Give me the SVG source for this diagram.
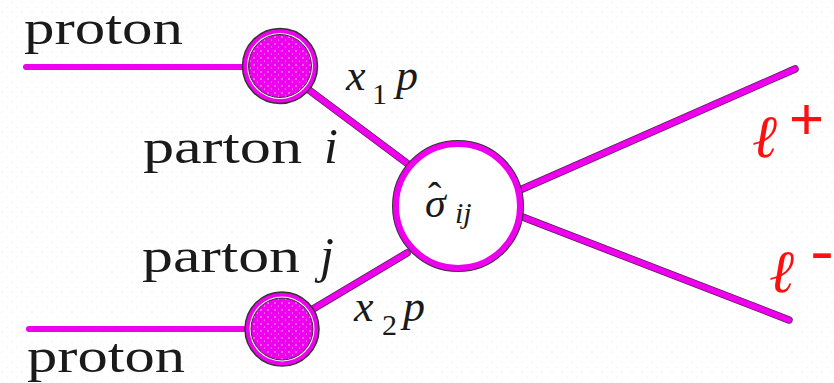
<svg xmlns="http://www.w3.org/2000/svg" width="834" height="383" viewBox="0 0 834 383">
<defs>
<style>
.t{fill:#1a1a1a}
.it{font-style:italic}
.lep{font-style:italic;fill:#ff1010}
.sgn{fill:#ff1010}
.ln{stroke:#ee00ee;stroke-width:6;stroke-linecap:round;fill:none}
.lnb{stroke:#552255;stroke-width:7.5;stroke-linecap:round;fill:none}
</style>
<pattern id="bg" width="10" height="10" patternUnits="userSpaceOnUse">
<circle cx="2" cy="2" r="0.6" fill="#f3c8f3"/>
<circle cx="7" cy="7" r="0.6" fill="#cdeff3"/>
</pattern>
<pattern id="dots" width="7" height="7" patternUnits="userSpaceOnUse">
<rect width="7" height="7" fill="#ee00ee"/>
<circle cx="2" cy="2" r="0.8" fill="#ffd0ff"/>
<circle cx="5.5" cy="5" r="0.6" fill="#ffe0ff"/>
</pattern>
</defs>
<rect width="834" height="383" fill="#ffffff"/>
<rect width="834" height="383" fill="url(#bg)"/>

<g id="connectors">
<line class="ln" x1="26" y1="67" x2="242" y2="67"/>
<line class="ln" x1="29" y1="329" x2="246" y2="329"/>
<line class="lnb" x1="309" y1="90" x2="408" y2="164"/>
<line class="ln" x1="309" y1="90" x2="408" y2="164"/>
<line class="lnb" x1="313" y1="309" x2="407" y2="253"/>
<line class="ln" x1="313" y1="309" x2="407" y2="253"/>
<line class="lnb" x1="520" y1="190" x2="795" y2="69"/>
<line class="ln" x1="520" y1="190" x2="795" y2="69"/>
<line class="lnb" x1="520" y1="216" x2="789" y2="320"/>
<line class="ln" x1="520" y1="216" x2="789" y2="320"/>
</g>

<g id="pdf1">
<circle cx="280" cy="66" r="37.5" fill="#ee00ee" stroke="#333" stroke-width="1.5"/>
<circle cx="280" cy="66" r="33" fill="#ffffff"/>
<circle cx="280" cy="66" r="31.5" fill="url(#dots)" stroke="#333" stroke-width="1"/>
</g>

<g id="pdf2">
<circle cx="282" cy="329" r="37" fill="#ee00ee" stroke="#333" stroke-width="1.5"/>
<circle cx="282" cy="329" r="32.5" fill="#ffffff"/>
<circle cx="282" cy="329" r="31" fill="url(#dots)" stroke="#333" stroke-width="1"/>
</g>

<g font-family="'Liberation Serif', 'DejaVu Serif', serif">
<g id="hard">
<circle cx="458" cy="206" r="62" fill="#ffffff" stroke="#333" stroke-width="8"/>
<circle cx="458" cy="206" r="62" fill="#ffffff" stroke="#ee00ee" stroke-width="6"/>
<text class="t it"><tspan x="425" y="217" font-size="42">σ</tspan><tspan x="428" y="210" font-size="40" font-style="normal">ˆ</tspan><tspan x="455" y="223" font-size="30">ij</tspan></text>
</g>

<g id="proton-top">
<text class="t" x="24" y="44" font-size="48" textLength="159" lengthAdjust="spacingAndGlyphs">proton</text>
</g>
<g id="proton-bottom">
<text class="t" x="27" y="372" font-size="48" textLength="158" lengthAdjust="spacingAndGlyphs">proton</text>
</g>
<g id="parton-i">
<text class="t" x="143" y="163" font-size="48" textLength="159" lengthAdjust="spacingAndGlyphs">parton</text>
<text class="t it" x="324" y="163" font-size="50">i</text>
</g>
<g id="parton-j">
<text class="t" x="142" y="272" font-size="48" textLength="158" lengthAdjust="spacingAndGlyphs">parton</text>
<text class="t it" x="320" y="272" font-size="50">j</text>
</g>
<g id="x1p">
<text class="t it"><tspan x="346" y="90" font-size="44">x</tspan><tspan x="372" y="104" font-size="30" font-style="normal">1</tspan><tspan x="396" y="90" font-size="44">p</tspan></text>
</g>
<g id="x2p">
<text class="t it"><tspan x="354" y="321" font-size="44">x</tspan><tspan x="382" y="335" font-size="30" font-style="normal">2</tspan><tspan x="403" y="321" font-size="44">p</tspan></text>
</g>
<g id="lepton-plus">
<text class="lep" x="752" y="157" font-size="60">ℓ</text>
<text class="sgn" x="789" y="139" font-size="60" font-family="'Liberation Sans', sans-serif">+</text>
</g>
<g id="lepton-minus">
<text class="lep" x="769" y="292" font-size="60">ℓ</text>
<text class="sgn" x="810" y="271" font-size="60" font-family="'Liberation Sans', sans-serif" textLength="24" lengthAdjust="spacingAndGlyphs">-</text>
</g>
</g>
</svg>
